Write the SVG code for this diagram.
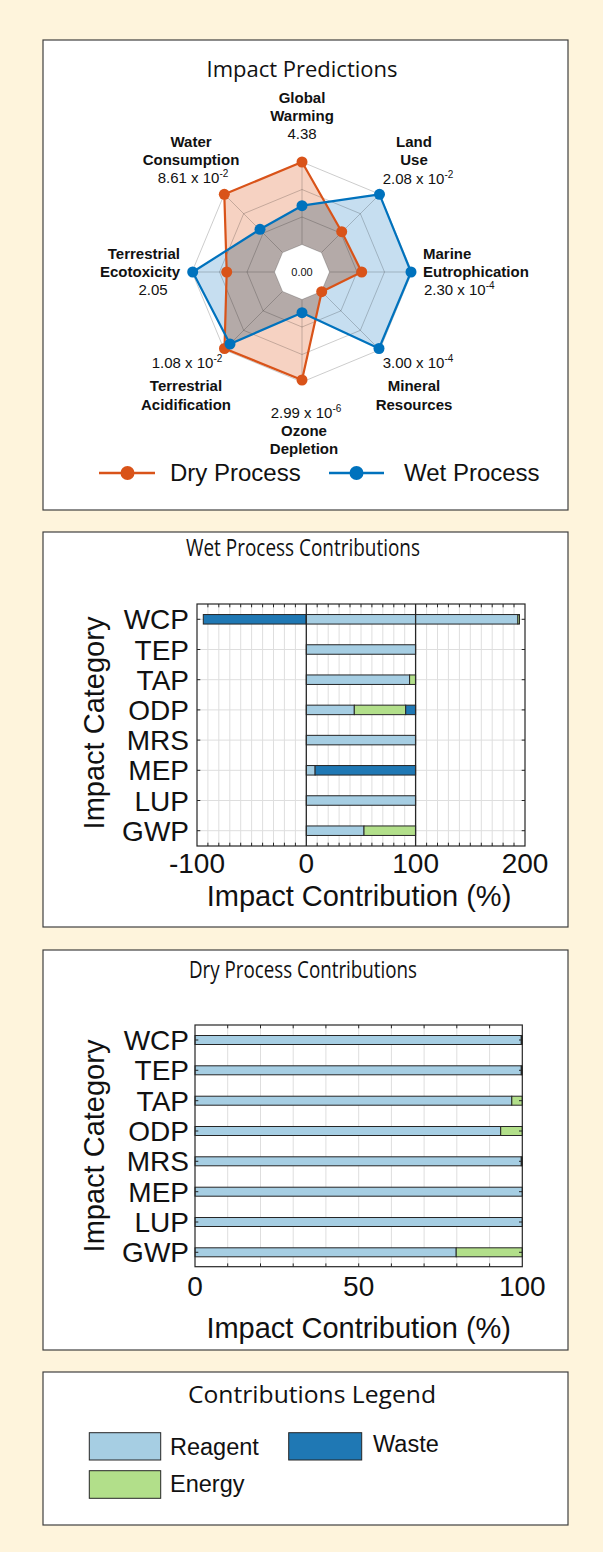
<svg xmlns="http://www.w3.org/2000/svg" width="603" height="1552" viewBox="0 0 603 1552">
<style>
.panel{fill:#fff;stroke:#404040;stroke-width:1.2}
.title{font-family:"Open Sans","Liberation Sans",sans-serif;font-size:22px;fill:#111;text-anchor:middle}
.sub{font-size:23px}
.ltitle{font-size:23.5px}
.lbl{font-family:"Liberation Sans",Arial,sans-serif;font-size:15px;font-weight:bold;fill:#111}
.val{font-family:"Liberation Sans",Arial,sans-serif;font-size:15px;fill:#111}
.ax{font-family:"Liberation Sans",Arial,sans-serif;font-size:28px;fill:#111}
.axl{font-size:29px}
.leg{font-family:"Liberation Sans",Arial,sans-serif;font-size:23.5px;fill:#111}
.rleg{font-family:"Liberation Sans",Arial,sans-serif;font-size:24px;fill:#111}
.mid{text-anchor:middle}
.end{text-anchor:end}
.re{fill:#A6CEE3;stroke:#262626;stroke-width:1}
.wa{fill:#1F78B4;stroke:#262626;stroke-width:1}
.en{fill:#B2DF8A;stroke:#262626;stroke-width:1}
.grid{fill:none;stroke:#dedede;stroke-width:1}
.tick{fill:none;stroke:#262626;stroke-width:1}
.box{fill:none;stroke:#262626;stroke-width:1.2}
.rg{fill:none;stroke:#000;stroke-opacity:0.2;stroke-width:1}
.dry{fill:none;stroke:#D95319;stroke-width:2.2;stroke-linejoin:round}
.wet{fill:none;stroke:#0072BD;stroke-width:2.2;stroke-linejoin:round}
</style>
<defs>
<clipPath id="dryClip"><polygon points="302,162 341.7,231.7 361.7,272 321.7,291.7 302,380 224.5,348.5 226.7,272 224.3,194.3"/></clipPath>
</defs>
<rect x="0" y="0" width="603" height="1552" fill="#FEF4DC"/>

<g id="radar-panel">
<rect class="panel" x="43" y="40" width="525" height="470"/>
<text class="title" x="302" y="77">Impact Predictions</text>
<polygon points="302,162 341.7,231.7 361.7,272 321.7,291.7 302,380 224.5,348.5 226.7,272 224.3,194.3" fill="#F6D2C2"/>
<polygon points="302,205.7 379.5,194.3 411,272 379,348.5 302,312.7 230,344 192.7,272 260,229.3" fill="#C6DEF0"/>
<polygon points="302,205.7 379.5,194.3 411,272 379,348.5 302,312.7 230,344 192.7,272 260,229.3" fill="#B4AAA8" clip-path="url(#dryClip)"/>
<polygon class="rg" points="302,162 379.78,194.22 412,272 379.78,349.78 302,382 224.22,349.78 192,272 224.22,194.22"/>
<polygon class="rg" points="302,189.5 360.34,213.66 384.5,272 360.34,330.34 302,354.5 243.66,330.34 219.5,272 243.66,213.66"/>
<polygon class="rg" points="302,217 340.89,233.11 357,272 340.89,310.89 302,327 263.11,310.89 247,272 263.11,233.11"/>
<path class="rg" d="M302 244.5V162M321.45 252.55L379.78 194.22M329.5 272H412M321.45 291.45L379.78 349.78M302 299.5V382M282.55 291.45L224.22 349.78M274.5 272H192M282.55 252.55L224.22 194.22"/>
<polygon points="302,244.5 321.45,252.55 329.5,272 321.45,291.45 302,299.5 282.55,291.45 274.5,272 282.55,252.55" fill="#fff" stroke="#000" stroke-opacity="0.2"/>
<text x="302" y="276" font-family="Liberation Sans, Arial, sans-serif" font-size="11" fill="#111" text-anchor="middle">0.00</text>
<g id="dry-series">
<polygon class="dry" points="302,162 341.7,231.7 361.7,272 321.7,291.7 302,380 224.5,348.5 226.7,272 224.3,194.3"/>
<g fill="#D95319">
<circle cx="302" cy="162" r="5.5"/><circle cx="341.7" cy="231.7" r="5.5"/><circle cx="361.7" cy="272" r="5.5"/><circle cx="321.7" cy="291.7" r="5.5"/><circle cx="302" cy="380" r="5.5"/><circle cx="224.5" cy="348.5" r="5.5"/><circle cx="226.7" cy="272" r="5.5"/><circle cx="224.3" cy="194.3" r="5.5"/>
</g>
</g>
<g id="wet-series">
<polygon class="wet" points="302,205.7 379.5,194.3 411,272 379,348.5 302,312.7 230,344 192.7,272 260,229.3"/>
<g fill="#0072BD">
<circle cx="302" cy="205.7" r="5.5"/><circle cx="379.5" cy="194.3" r="5.5"/><circle cx="411" cy="272" r="5.5"/><circle cx="379" cy="348.5" r="5.5"/><circle cx="302" cy="312.7" r="5.5"/><circle cx="230" cy="344" r="5.5"/><circle cx="192.7" cy="272" r="5.5"/><circle cx="260" cy="229.3" r="5.5"/>
</g>
</g>
<g id="radar-labels">
<text class="lbl mid" x="302" y="103">Global</text>
<text class="lbl mid" x="302" y="121">Warming</text>
<text class="val mid" x="302" y="139">4.38</text>
<text class="lbl mid" x="414" y="147">Land</text>
<text class="lbl mid" x="414" y="165">Use</text>
<text class="val mid" x="418" y="184">2.08 x 10<tspan dy="-6" font-size="10">-2</tspan></text>
<text class="lbl" x="423" y="259">Marine</text>
<text class="lbl" x="423" y="277">Eutrophication</text>
<text class="val" x="424" y="295">2.30 x 10<tspan dy="-6" font-size="10">-4</tspan></text>
<text class="val mid" x="418" y="368">3.00 x 10<tspan dy="-6" font-size="10">-4</tspan></text>
<text class="lbl mid" x="414" y="391">Mineral</text>
<text class="lbl mid" x="414" y="410">Resources</text>
<text class="val mid" x="306" y="418">2.99 x 10<tspan dy="-6" font-size="10">-6</tspan></text>
<text class="lbl mid" x="304" y="436">Ozone</text>
<text class="lbl mid" x="304" y="454">Depletion</text>
<text class="val mid" x="187" y="368">1.08 x 10<tspan dy="-6" font-size="10">-2</tspan></text>
<text class="lbl mid" x="186" y="391">Terrestrial</text>
<text class="lbl mid" x="186" y="410">Acidification</text>
<text class="lbl end" x="180" y="259">Terrestrial</text>
<text class="lbl end" x="180" y="277">Ecotoxicity</text>
<text class="val mid" x="153" y="295">2.05</text>
<text class="lbl mid" x="191" y="147">Water</text>
<text class="lbl mid" x="191" y="165">Consumption</text>
<text class="val mid" x="193" y="183">8.61 x 10<tspan dy="-6" font-size="10">-2</tspan></text>
</g>
<g id="radar-legend">
<line x1="99" y1="473" x2="155" y2="473" stroke="#D95319" stroke-width="2.5"/>
<circle cx="127.5" cy="473" r="7" fill="#D95319"/>
<text class="rleg" x="170" y="481">Dry Process</text>
<line x1="329" y1="473" x2="384" y2="473" stroke="#0072BD" stroke-width="2.5"/>
<circle cx="356.5" cy="473" r="7" fill="#0072BD"/>
<text class="rleg" x="404" y="481">Wet Process</text>
</g>
</g>

<g id="wet-panel">
<rect class="panel" x="43" y="532" width="525" height="395"/>
<text class="title sub" x="303" y="556" textLength="234" lengthAdjust="spacingAndGlyphs">Wet Process Contributions</text>
<rect x="197" y="604" width="328" height="242" fill="#fff"/>
<path class="grid" d="M207.9 604V846M218.8 604V846M229.8 604V846M240.7 604V846M251.6 604V846M262.6 604V846M273.5 604V846M284.4 604V846M295.4 604V846M317.2 604V846M328.2 604V846M339.1 604V846M350 604V846M361 604V846M371.9 604V846M382.8 604V846M393.8 604V846M404.7 604V846M426.6 604V846M437.5 604V846M448.4 604V846M459.4 604V846M470.3 604V846M481.3 604V846M492.2 604V846M503.1 604V846M514 604V846"/>
<path class="grid" d="M197 619.3H525M197 649.5H525M197 679.7H525M197 709.9H525M197 740.1H525M197 770.3H525M197 800.5H525M197 830.7H525"/>
<g id="wet-bars">
<rect class="wa" x="203.3" y="614.55" width="103" height="9.5"/>
<rect class="re" x="306.3" y="614.55" width="211.6" height="9.5"/>
<rect class="en" x="517.9" y="614.55" width="1.6" height="9.5"/>
<rect class="re" x="306.3" y="644.75" width="109.3" height="9.5"/>
<rect class="re" x="306.3" y="674.95" width="103.3" height="9.5"/>
<rect class="en" x="409.6" y="674.95" width="6" height="9.5"/>
<rect class="re" x="306.3" y="705.15" width="48" height="9.5"/>
<rect class="en" x="354.3" y="705.15" width="51.4" height="9.5"/>
<rect class="wa" x="405.7" y="705.15" width="9.9" height="9.5"/>
<rect class="re" x="306.3" y="735.35" width="109.3" height="9.5"/>
<rect class="re" x="306.3" y="765.55" width="8.8" height="9.5"/>
<rect class="wa" x="315.1" y="765.55" width="100.5" height="9.5"/>
<rect class="re" x="306.3" y="795.75" width="109.3" height="9.5"/>
<rect class="re" x="306.3" y="825.95" width="57.7" height="9.5"/>
<rect class="en" x="364" y="825.95" width="51.6" height="9.5"/>
</g>
<path d="M306.3 604V846M415.6 604V846" stroke="#262626" stroke-width="1.3"/>
<path class="tick" d="M207.9 604v3.3M218.8 604v3.3M229.8 604v3.3M240.7 604v3.3M251.6 604v3.3M262.6 604v3.3M273.5 604v3.3M284.4 604v3.3M295.4 604v3.3M317.2 604v3.3M328.2 604v3.3M339.1 604v3.3M350 604v3.3M361 604v3.3M371.9 604v3.3M382.8 604v3.3M393.8 604v3.3M404.7 604v3.3M426.6 604v3.3M437.5 604v3.3M448.4 604v3.3M459.4 604v3.3M470.3 604v3.3M481.3 604v3.3M492.2 604v3.3M503.1 604v3.3M514 604v3.3M207.9 846v-3.3M218.8 846v-3.3M229.8 846v-3.3M240.7 846v-3.3M251.6 846v-3.3M262.6 846v-3.3M273.5 846v-3.3M284.4 846v-3.3M295.4 846v-3.3M317.2 846v-3.3M328.2 846v-3.3M339.1 846v-3.3M350 846v-3.3M361 846v-3.3M371.9 846v-3.3M382.8 846v-3.3M393.8 846v-3.3M404.7 846v-3.3M426.6 846v-3.3M437.5 846v-3.3M448.4 846v-3.3M459.4 846v-3.3M470.3 846v-3.3M481.3 846v-3.3M492.2 846v-3.3M503.1 846v-3.3M514 846v-3.3M197 619.3h3.3M197 649.5h3.3M197 679.7h3.3M197 709.9h3.3M197 740.1h3.3M197 770.3h3.3M197 800.5h3.3M197 830.7h3.3M525 619.3h-3.3M525 649.5h-3.3M525 679.7h-3.3M525 709.9h-3.3M525 740.1h-3.3M525 770.3h-3.3M525 800.5h-3.3M525 830.7h-3.3"/>
<rect class="box" x="197" y="604" width="328" height="242"/>
<g class="ax end">
<text x="189" y="629.3">WCP</text><text x="189" y="659.5">TEP</text><text x="189" y="689.7">TAP</text><text x="189" y="719.9">ODP</text><text x="189" y="750.1">MRS</text><text x="189" y="780.3">MEP</text><text x="189" y="810.5">LUP</text><text x="189" y="840.7">GWP</text>
</g>
<g class="ax mid">
<text x="197" y="873">-100</text><text x="306.3" y="873">0</text><text x="415.6" y="873">100</text><text x="525" y="873">200</text>
<text class="axl" x="359" y="906">Impact Contribution (%)</text>
<text class="axl" x="104" y="723" transform="rotate(-90 104 723)">Impact Category</text>
</g>
</g>

<g id="dry-panel">
<rect class="panel" x="43" y="950" width="525" height="400"/>
<text class="title sub" x="303" y="978" textLength="228" lengthAdjust="spacingAndGlyphs">Dry Process Contributions</text>
<rect x="195" y="1025" width="327.3" height="241.7" fill="#fff"/>
<path class="grid" d="M227.7 1025V1266.7M260.5 1025V1266.7M293.2 1025V1266.7M325.9 1025V1266.7M358.7 1025V1266.7M391.4 1025V1266.7M424.1 1025V1266.7M456.8 1025V1266.7M489.6 1025V1266.7"/>
<g id="dry-bars">
<rect class="re" x="195" y="1035.5" width="326.3" height="9"/>
<rect class="en" x="521.3" y="1035.5" width="1" height="9"/>
<rect class="re" x="195" y="1065.8" width="326.3" height="9"/>
<rect class="en" x="521.3" y="1065.8" width="1" height="9"/>
<rect class="re" x="195" y="1096.2" width="316.8" height="9"/>
<rect class="en" x="511.8" y="1096.2" width="10.5" height="9"/>
<rect class="re" x="195" y="1126.5" width="305.7" height="9"/>
<rect class="en" x="500.7" y="1126.5" width="21.6" height="9"/>
<rect class="re" x="195" y="1156.8" width="326.3" height="9"/>
<rect class="en" x="521.3" y="1156.8" width="1" height="9"/>
<rect class="re" x="195" y="1187.2" width="327.3" height="9"/>
<rect class="re" x="195" y="1217.5" width="327.3" height="9"/>
<rect class="re" x="195" y="1247.8" width="261.2" height="9"/>
<rect class="en" x="456.2" y="1247.8" width="66.1" height="9"/>
</g>
<path class="tick" d="M227.7 1025v3.3M260.5 1025v3.3M293.2 1025v3.3M325.9 1025v3.3M358.7 1025v3.3M391.4 1025v3.3M424.1 1025v3.3M456.8 1025v3.3M489.6 1025v3.3M227.7 1266.7v-3.3M260.5 1266.7v-3.3M293.2 1266.7v-3.3M325.9 1266.7v-3.3M358.7 1266.7v-3.3M391.4 1266.7v-3.3M424.1 1266.7v-3.3M456.8 1266.7v-3.3M489.6 1266.7v-3.3M195 1040h3.3M195 1070.3h3.3M195 1100.7h3.3M195 1131h3.3M195 1161.3h3.3M195 1191.7h3.3M195 1222h3.3M195 1252.3h3.3M522.3 1040h-3.3M522.3 1070.3h-3.3M522.3 1100.7h-3.3M522.3 1131h-3.3M522.3 1161.3h-3.3M522.3 1191.7h-3.3M522.3 1222h-3.3M522.3 1252.3h-3.3"/>
<rect class="box" x="195" y="1025" width="327.3" height="241.7"/>
<g class="ax end">
<text x="189" y="1050">WCP</text><text x="189" y="1080.3">TEP</text><text x="189" y="1110.7">TAP</text><text x="189" y="1141">ODP</text><text x="189" y="1171.3">MRS</text><text x="189" y="1201.7">MEP</text><text x="189" y="1232">LUP</text><text x="189" y="1262.3">GWP</text>
</g>
<g class="ax mid">
<text x="195" y="1296">0</text><text x="358.7" y="1296">50</text><text x="522.3" y="1296">100</text>
<text class="axl" x="358.7" y="1338">Impact Contribution (%)</text>
<text class="axl" x="104" y="1146" transform="rotate(-90 104 1146)">Impact Category</text>
</g>
</g>

<g id="legend-panel">
<rect class="panel" x="43" y="1372" width="525" height="153"/>
<text class="title ltitle" x="312" y="1403" textLength="248" lengthAdjust="spacingAndGlyphs">Contributions Legend</text>
<g id="legend-reagent"><rect class="re" x="89.3" y="1432.7" width="71.4" height="27.3"/><text class="leg" x="170" y="1455">Reagent</text></g>
<g id="legend-waste"><rect class="wa" x="288.7" y="1432.7" width="73" height="27.3"/><text class="leg" x="373" y="1452">Waste</text></g>
<g id="legend-energy"><rect class="en" x="89.3" y="1470.7" width="71.4" height="27.6"/><text class="leg" x="170" y="1492">Energy</text></g>
</g>
<g id="connectors"/>
</svg>
